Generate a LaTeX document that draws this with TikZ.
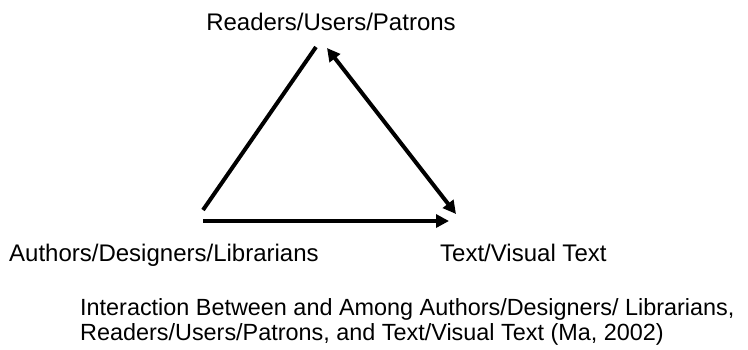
\documentclass[tikz,border=0pt]{standalone}
\usepackage{fontspec}
\setmainfont{Liberation Sans}
\usetikzlibrary{arrows.meta}
\tikzset{
  label text/.style={anchor=base west, inner sep=0pt, font=\fontsize{24}{25}\selectfont},
  caption text/.style={anchor=base west, inner sep=0pt, font=\fontsize{23.4}{25}\selectfont},
  link/.style={line width=4pt, line cap=butt},
  tip/.style={-{Triangle[length=13pt,width=13pt]}},
  twotip/.style={{Triangle[length=13pt,width=13pt]}-{Triangle[length=13pt,width=13pt]}}
}
\begin{document}
\begin{tikzpicture}[x=1pt,y=-1pt]
  \path[use as bounding box] (0,0) rectangle (748,349);

  % the three parties
  \node[label text, anchor=base] (readers) at (331,30) {Readers/Users/Patrons};
  \node[label text] (authors) at (9,261) {Authors/Designers/Librarians};
  \node[label text] (text) at (440,261) {Text/Visual Text};

  % corners of the triangle
  \coordinate (aTop) at (316,47);
  \coordinate (aLeft) at (203,210);
  \coordinate (bTop) at (327,48);
  \coordinate (bRight) at (456,214);
  \coordinate (cLeft) at (203,221);
  \coordinate (cRight) at (449,221);

  \draw[link] (aLeft) -- (aTop);
  \draw[link, twotip] (bTop) -- (bRight);
  \draw[link, tip] (cLeft) -- (cRight);

  % caption
  \node[caption text] (cap1) at (80,315) {Interaction Between and Among Authors/Designers/ Librarians,};
  \node[caption text] (cap2) at (80,340) {Readers/Users/Patrons, and Text/Visual Text (Ma, 2002)};
\end{tikzpicture}
\end{document}
